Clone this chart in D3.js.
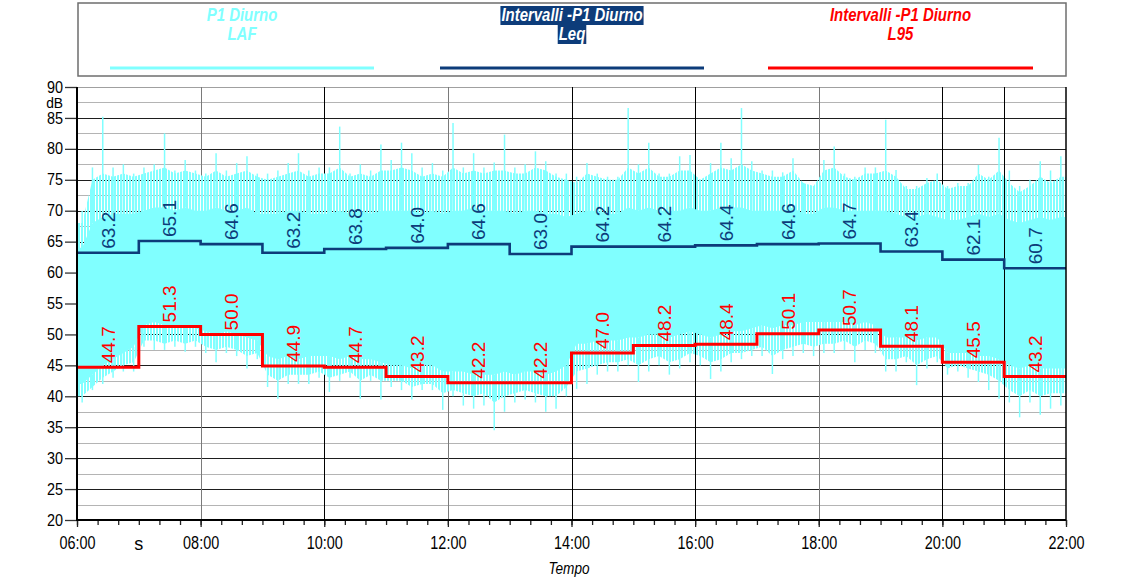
<!DOCTYPE html>
<html><head><meta charset="utf-8">
<script src="https://cdn.jsdelivr.net/npm/d3@7"></script>
<style>body{margin:0;background:#fff}svg{display:block}</style>
</head><body><svg id="c" width="1145" height="578"></svg>
<script>
// ---------- DATA ----------
const intervalStart = [6,7,8,9,10,11,12,13,14,15,16,17,18,19,20,21];
const leq = [63.2,65.1,64.6,63.2,63.8,64.0,64.6,63.0,64.2,64.2,64.4,64.6,64.7,63.4,62.1,60.7];
const l95 = [44.7,51.3,50.0,44.9,44.7,43.2,42.2,42.2,47.0,48.2,48.4,50.1,50.7,48.1,45.5,43.2];

// LAF, read per 10-minute bin (06:00 -> 22:00, 96 bins)
// lafMax: highest spike, lafHigh: top of dense fringe, lafTop: top of solid core,
// lafBottom: bottom of solid core, lafLow: bottom of dense fringe, lafMin: deepest dip
const lafMax = [
  70,77,85.2,77,77.5,76,   77,77.5,82.5,76.5,78.2,76.5,  76,79.3,76.5,77.7,78.8,76,  76,76.5,77.7,79.3,76.5,77,
  77,83.6,76,77.5,76.5,80.7, 78.2,81,79.3,77,77.7,76.5, 84.2,77,79.3,77,77.8,82.3, 77,77.5,79.6,78,76,76,
  75.5,77.7,76,75.5,75.5,86.6, 77.5,81,76,76,78.8,79, 75,77.7,81,78.5,86.6,78, 76.5,76.5,76.2,78.5,74.5,74,
  78.2,80.4,76,75.5,77,77, 84.7,76.6,74,74,75.3,76, 74,74.5,74.5,77.4,75.5,81.8, 76.5,74,75,78,76.5,78.8];
const lafHigh = [
  68,75,76,75.5,76,75.5, 76,76.5,77,76,76.5,76, 75.5,76.5,75.5,76,76.5,75.5, 75,75.5,76,76.5,75.5,76,
  76,77,75.5,76,75.5,76.5, 76.5,77,76.5,75.5,76,75.5, 77,76,76.5,76,76.5,76.5, 76,76,77,76.5,75.5,75,
  74.5,76,75.5,75,75,77, 76,77,75.5,75.5,76.5,76.5, 75,76,77,76.5,77.5,76.5, 76,75.5,75.5,76.5,74.5,74,
  76.5,77,75.5,75,76,76, 76.5,75.5,73.5,73.5,74.5,75, 73.5,74,74,76,75,76.5, 74.5,73,74,75.5,74.5,75.5];
const lafTop = [
  64,68,69,69.5,69.5,69.5, 70,70.5,70.5,70,70.5,70, 70,70.5,70,70,70.5,69.5, 69.5,69.5,70,70,69.5,69.5,
  69.5,70,69.5,70,69.5,70, 70,70,70,69.5,70,69.5, 70,70,70.5,70,70,70, 69.5,70,70,69.5,69.5,69,
  69.5,70,70,69.5,69.5,70.5, 70,70.5,70,70,70,70.5, 70,70,70.5,70.5,70.5,70, 70,70,70,70.5,69.5,69.5,
  70.5,70.5,70,70,70,70, 70,69.5,69,69,69.5,69, 68.5,68.5,69,69.5,69,69.5, 68.5,68,68.5,69,68.5,69];
const lafBottom = [
  42,43.5,45,46,47,48, 51.5,52,51.5,51,51.5,51, 50.5,50,50.5,50,49.5,49, 46.5,46,46.5,46,46.5,46.5,
  46.5,46,46.5,46,46,45.5, 45,45,44.5,45,45,44, 44,44,43.5,43.5,43.5,44, 43.5,44,44,43.5,44,45,
  48.5,48.5,49,49,49,49.5, 49.5,50,50,49.5,50,50.5, 50,49.5,50,50.5,50.5,51, 51.5,51,51.5,51.5,52,52,
  52,52,52,51.5,52,51.5, 49.5,49.5,49.5,49,49.5,49.5, 47,47,47,46.5,46.5,46, 45,44.5,45,44.5,44.5,44.5];
const lafLow = [
  40,41.5,43,44,45,45.5, 49,49,48.5,49,48.5,49, 48,47.5,48,47.5,46.5,47, 43.5,42.5,43.5,43.5,43.5,44,
  43,43.5,44,42.5,43.5,42.5, 42.5,42.5,41.5,42,42,40.5, 41,40.5,40,40.5,39,40, 40.5,41,40.5,40,40,41.5,
  44,44.5,45,45.5,45.5,46, 45,46,46.5,45.5,46,47, 46.5,45.5,46,47,47,47.5, 48,46.5,47.5,48,48.5,48,
  48.5,48.5,49,48,49,48.5, 46,46,46.5,45,46,46.5, 44.5,45,44.5,44,43.5,42.5, 41,40,41,40,40.5,40.5];
const lafMin = [
  39,41,42,43,44,44, 48,47.5,47.5,48,47.2,48, 47,45.5,47,46.5,44.5,46, 41.5,39.6,42,42,42,43,
  40.7,42.5,43,39.6,42.5,39.5, 41.5,41,39.5,41,41,37.8, 40,38.5,38,38.5,34.5,37.5, 39,39.5,39,37.5,38,40,
  41.2,42,43.5,44,44,45, 42.3,44,45,43.5,44.5,45.5, 45,42.8,44,45.5,46,46.5, 46.5,43.6,46,46.5,47,46.5,
  47,47,47.5,45.5,47.5,47, 44,44,45.5,41.8,44.5,45.5, 43.5,44,43,42.3,41,39.6, 39,36.6,39,37,38,38.5];

const xTickValues = [6,8,10,12,14,16,18,20,22];
const xTickLabels = ["06:00","08:00","10:00","12:00","14:00","16:00","18:00","20:00","22:00"];
const xExtraLabel = {value:7, text:"s"};
const yTickValues = [20,25,30,35,40,45,50,55,60,65,70,75,80,85,90];
const yUnit = "dB";
const xTitle = "Tempo";
const legendTitle = ["P1 Diurno","Intervalli -P1 Diurno","Intervalli -P1 Diurno"];
const legendSub = ["LAF","Leq","L95"];

// ---------- STYLE ----------
const C_LAF = "#80ffff", C_LEQ = "#0d3c7a", C_L95 = "#ff0000";
const SANS = "'Liberation Sans',Arial,sans-serif";
function condense(sel, f){
  sel.each(function(){
    const L = this.getComputedTextLength();
    d3.select(this).attr("textLength", L * f).attr("lengthAdjust", "spacingAndGlyphs");
  });
}

const svg = d3.select("#c");
const x = d3.scaleLinear().domain([6,22]).range([77,1066]);
const y = d3.scaleLinear().domain([20,90]).range([520,87]);

const defs = svg.append("defs");
const pat = defs.append("pattern").attr("id","fringe").attr("patternUnits","userSpaceOnUse")
  .attr("width", 3).attr("height", 10);
pat.append("rect").attr("width", 2).attr("height", 10).attr("fill", C_LAF);

// ---------- GRID ----------
const grid = svg.append("g");
d3.range(20, 90.01, 2.5).forEach(v => {
  grid.append("line").attr("x1", x(6)).attr("x2", x(22)).attr("y1", Math.round(y(v))+0.5).attr("y2", Math.round(y(v))+0.5)
    .attr("stroke", v === 90 ? "#a0a0a0" : (v % 5 === 0 ? "#1e1e1e" : "#b4b4b4"))
    .attr("stroke-width", 1);
});
const grayHours = [8,12,18];
[8,10,12,14,16,18,20].forEach(h => {
  grid.append("line").attr("x1", Math.round(x(h))+0.5).attr("x2", Math.round(x(h))+0.5).attr("y1", y(90)).attr("y2", y(20))
    .attr("stroke", grayHours.includes(h) ? "#7a7a7a" : "#000").attr("stroke-width", 1);
});

// ---------- LAF ----------
const binT = i => 6 + (i + 0.5) / 6;
function band(top, bot){
  const p = top.map((t,i) => ({t: binT(i), top: t, bot: bot[i]}));
  return [{t:6, top:top[0], bot:bot[0]}, ...p, {t:22, top:top[top.length-1], bot:bot[bot.length-1]}];
}
const areaGen = d3.area().x(d => x(d.t)).y0(d => y(d.bot)).y1(d => y(d.top));
svg.append("path").datum(band(lafHigh, lafLow)).attr("d", areaGen).attr("fill", "url(#fringe)");
svg.append("path").datum(band(lafTop, lafBottom)).attr("d", areaGen).attr("fill", C_LAF);
const spikes = svg.append("g").attr("stroke", C_LAF).attr("stroke-width", 1.5);
lafMax.forEach((m,i) => {
  spikes.append("line").attr("x1", x(binT(i))).attr("x2", x(binT(i)))
    .attr("y1", y(lafTop[i])).attr("y2", y(m));
  spikes.append("line").attr("x1", x(binT(i))).attr("x2", x(binT(i)))
    .attr("y1", y(lafBottom[i])).attr("y2", y(lafMin[i]));
});

// 21:00 marker line on top
svg.append("line").attr("x1", Math.round(x(21))+0.5).attr("x2", Math.round(x(21))+0.5).attr("y1", y(90)).attr("y2", y(20))
  .attr("stroke", "#000").attr("stroke-width", 1);

// ---------- STEP LINES ----------
function stepData(vals){ const d = intervalStart.map((h,i)=>[h, vals[i]]); d.push([22, vals[vals.length-1]]); return d; }
const stepLine = d3.line().x(d => x(d[0])).y(d => y(d[1])).curve(d3.curveStepAfter);
svg.append("path").datum(stepData(leq)).attr("d", stepLine).attr("fill","none")
  .attr("stroke", C_LEQ).attr("stroke-width", 2.6);
svg.append("path").datum(stepData(l95)).attr("d", stepLine).attr("fill","none")
  .attr("stroke", C_L95).attr("stroke-width", 3);

// ---------- VALUE LABELS ----------
function labels(vals, color){
  svg.append("g").selectAll("text").data(vals).join("text")
    .attr("transform", (v,i) => `translate(${x(intervalStart[i]+0.5)},${y(v)-4}) rotate(-90)`)
    .attr("dy", "0.35em").attr("text-anchor","start")
    .attr("font-family", SANS).attr("font-size", 19).attr("fill", color)
    .text(v => v.toFixed(1));
}
labels(leq, C_LEQ);
labels(l95, C_L95);

// ---------- AXES ----------
const yAxis = svg.append("g").attr("transform", `translate(${x(6)},0)`)
  .call(d3.axisLeft(y).tickValues(yTickValues).tickSize(12).tickPadding(2).tickFormat(d3.format("d")));
yAxis.select(".domain").remove();
yAxis.selectAll(".tick line").attr("stroke", "#333").attr("stroke-width", 1.3);
yAxis.selectAll("text").attr("font-family", SANS).attr("font-size", 16).attr("fill","#000").call(condense, 0.9);
svg.append("text").attr("x", 63).attr("y", 108).attr("text-anchor","end")
  .attr("font-family", SANS).attr("font-size", 14.5).text(yUnit).call(condense, 0.95);

const minorTicks = d3.range(0, 49).map(k => 6 + k/3);
const xMinor = svg.append("g").attr("transform", `translate(0,${y(20)})`)
  .call(d3.axisBottom(x).tickValues(minorTicks).tickSize(5).tickFormat(""));
xMinor.select(".domain").remove();
xMinor.selectAll(".tick line").attr("stroke","#222").attr("stroke-width",1.3);
const xAxis = svg.append("g").attr("transform", `translate(0,${y(20)})`)
  .call(d3.axisBottom(x).tickValues(xTickValues).tickSize(7).tickPadding(9)
    .tickFormat((d,i) => xTickLabels[i]));
xAxis.select(".domain").remove();
xAxis.selectAll(".tick line").attr("stroke","#222").attr("stroke-width",1.3);
xAxis.selectAll("text").attr("font-family", SANS).attr("font-size", 18).attr("fill","#000").call(condense, 0.8);
svg.append("text").attr("x", x(xExtraLabel.value)).attr("y", 550).attr("text-anchor","middle")
  .attr("font-family", SANS).attr("font-size", 18).text(xExtraLabel.text);

// frame
svg.append("line").attr("x1", x(6)).attr("x2", x(6)).attr("y1", y(90)).attr("y2", y(20))
  .attr("stroke","#000").attr("stroke-width",2);
svg.append("line").attr("x1", x(22)).attr("x2", x(22)).attr("y1", y(90)).attr("y2", y(20))
  .attr("stroke","#000").attr("stroke-width",1.5);
svg.append("line").attr("x1", x(6)-1).attr("x2", x(22)).attr("y1", y(20)).attr("y2", y(20))
  .attr("stroke","#000").attr("stroke-width",2);

svg.append("text").attr("x", 569).attr("y", 574).attr("text-anchor","middle")
  .attr("font-family", SANS).attr("font-style","italic").attr("font-size", 16).text(xTitle).call(condense, 0.85);

// ---------- LEGEND ----------
svg.append("rect").attr("x", 78).attr("y", 3).attr("width", 988).attr("height", 73)
  .attr("fill","#fff").attr("stroke","#6e6e6e").attr("stroke-width",1.5);
const legColors = [C_LAF, C_LEQ, C_L95];
const legX = [[110,374],[440,704],[768,1033]];
legendTitle.forEach((t,i) => {
  const cx = (legX[i][0] + legX[i][1]) / 2;
  const g = svg.append("g");
  const inv = i === 1;
  const t1 = g.append("text").attr("x", cx).attr("y", 21).attr("text-anchor","middle")
    .attr("font-family", SANS).attr("font-style","italic").attr("font-weight","bold")
    .attr("font-size", 18).attr("fill", inv ? "#fff" : legColors[i]).text(t).call(condense, 0.83);
  const t2 = g.append("text").attr("x", cx).attr("y", 40).attr("text-anchor","middle")
    .attr("font-family", SANS).attr("font-style","italic").attr("font-weight","bold")
    .attr("font-size", 18).attr("fill", inv ? "#fff" : legColors[i]).text(legendSub[i]).call(condense, 0.83);
  if (inv) {
    [t1, t2].forEach(tt => {
      const b = tt.node().getBBox();
      g.insert("rect", "text").attr("x", b.x - 1).attr("y", b.y + 1).attr("width", b.width + 2)
        .attr("height", b.height - 1).attr("fill", C_LEQ);
    });
  }
  svg.append("line").attr("x1", legX[i][0]).attr("x2", legX[i][1]).attr("y1", 68).attr("y2", 68)
    .attr("stroke", legColors[i]).attr("stroke-width", 3);
});
</script></body></html>
